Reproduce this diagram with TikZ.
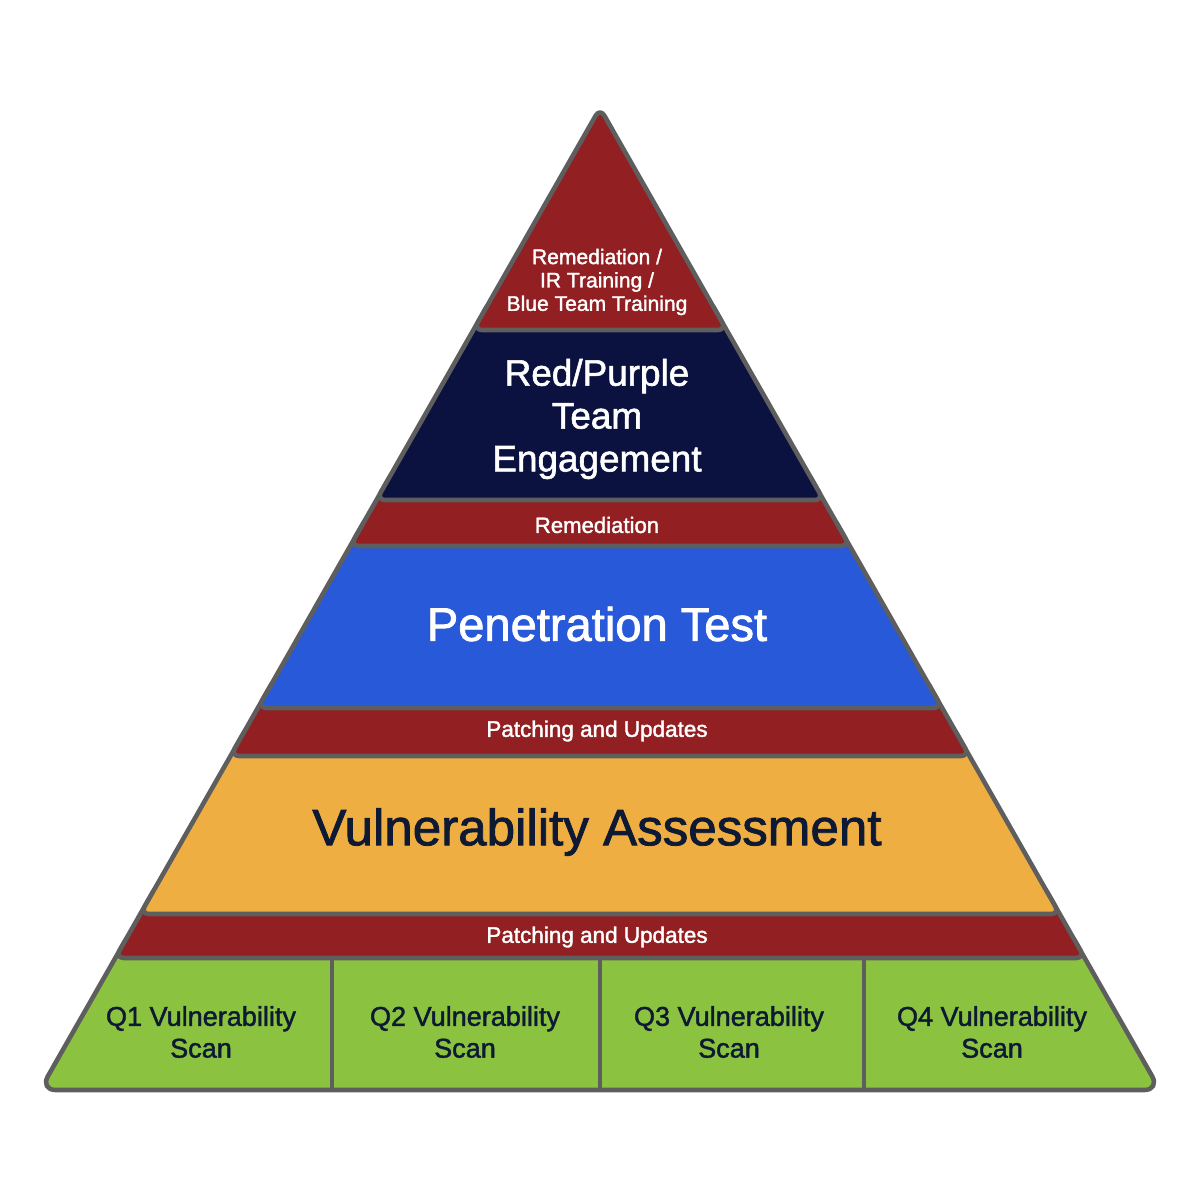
\documentclass[tikz,border=0pt]{standalone}
\usepackage{fontspec}
\setmainfont[FakeBold=1.6]{Liberation Sans}
\newfontfamily\labelfont[FakeBold=1.6]{Liberation Sans}

\definecolor{bandred}{HTML}{921F21}
\definecolor{teamnavy}{HTML}{0B1240}
\definecolor{penblue}{HTML}{2759D8}
\definecolor{vaorange}{HTML}{EFAE42}
\definecolor{scangreen}{HTML}{8BC23F}
\definecolor{rimgray}{HTML}{5E5E5E}
\definecolor{inkdark}{HTML}{0E1A33}

\tikzset{
  layer/.style={draw=rimgray,line width=2.6pt,rounded corners=5pt,line join=round},
  whitelabel/.style={text=white,align=center,inner sep=0pt},
  darklabel/.style={text=inkdark,align=center,inner sep=0pt}
}

\begin{document}
\begin{tikzpicture}[x=0.02cm,y=-0.02cm]
  \useasboundingbox (0,0) rectangle (1200,1198);
  % layers, from the base up
  \draw[layer,rounded corners=9pt,fill=scangreen] (132.4,928)--(40,1090)--(1160,1090)--(1067.6,928)--cycle;
  \draw[layer] (332,958)--(332,1090); \draw[layer] (600,958)--(600,1090);
  \draw[layer] (864,958)--(864,1090);
  \draw[layer,fill=bandred] (157.4,884)--(115.2,958)--(1084.8,958)--(1042.6,884)--cycle;
  \draw[layer,fill=vaorange] (247.6,726)--(140.3,914)--(1059.7,914)--(952.4,726)--cycle;
  \draw[layer,fill=bandred] (274.9,678)--(230.4,756)--(969.6,756)--(925.1,678)--cycle;
  \draw[layer,fill=penblue] (367.3,516)--(257.8,708)--(942.2,708)--(832.7,516)--cycle;
  \draw[layer,fill=bandred] (393.6,470)--(350.2,546)--(849.8,546)--(806.4,470)--cycle;
  \draw[layer,fill=teamnavy] (490.5,300)--(376.4,500)--(823.6,500)--(709.5,300)--cycle;
  \draw[layer,fill=bandred] (600,108)--(473.4,330)--(726.6,330)--cycle;
  % labels
  \node[whitelabel,font=\labelfont\fontsize{12}{13.3}\selectfont] (tiptext) at (597,282)
    {Remediation /\\IR Training /\\Blue Team Training};
  \node[whitelabel,font=\labelfont\fontsize{21}{24.4}\selectfont] (teamtext) at (597,419)
    {Red/Purple\\Team\\Engagement};
  \node[whitelabel,font=\labelfont\fontsize{12.6}{14}\selectfont] (remtext) at (597,525) {Remediation};
  \node[whitelabel,font=\labelfont\fontsize{26.8}{30}\selectfont] (pentext) at (597,624) {Penetration Test};
  \node[whitelabel,font=\labelfont\fontsize{12.8}{14}\selectfont] (patchhigh) at (597,731) {Patching and Updates};
  \node[darklabel,font=\labelfont\fontsize{29.1}{32}\selectfont] (vatext) at (597,832) {Vulnerability Assessment};
  \node[whitelabel,font=\labelfont\fontsize{12.8}{14}\selectfont] (patchlow) at (597,937) {Patching and Updates};
  \node[darklabel,font=\labelfont\fontsize{15.4}{18.1}\selectfont] (qone) at (201,1032) {Q1 Vulnerability\\Scan};
  \node[darklabel,font=\labelfont\fontsize{15.4}{18.1}\selectfont] (qtwo) at (465,1032) {Q2 Vulnerability\\Scan};
  \node[darklabel,font=\labelfont\fontsize{15.4}{18.1}\selectfont] (qthree) at (729,1032) {Q3 Vulnerability\\Scan};
  \node[darklabel,font=\labelfont\fontsize{15.4}{18.1}\selectfont] (qfour) at (992,1032) {Q4 Vulnerability\\Scan};
\end{tikzpicture}
\end{document}
